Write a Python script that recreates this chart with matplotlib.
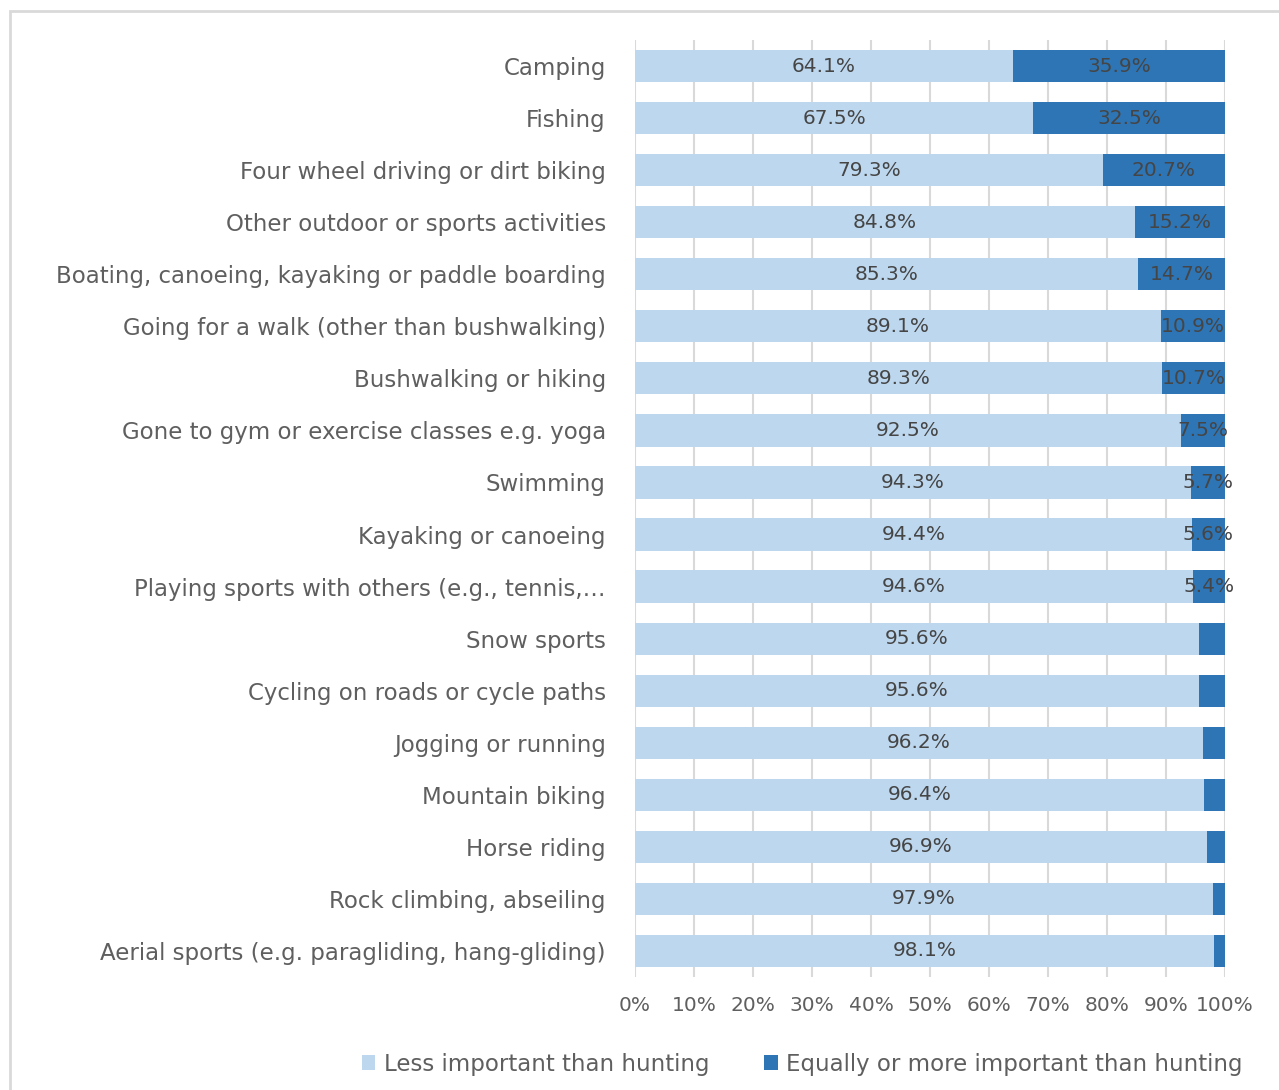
import matplotlib
matplotlib.use("Agg")
from matplotlib import pyplot as plt
from matplotlib.patches import Rectangle
from matplotlib.ticker import MultipleLocator, FuncFormatter

activities = [
    "Camping",
    "Fishing",
    "Four wheel driving or dirt biking",
    "Other outdoor or sports activities",
    "Boating, canoeing, kayaking or paddle boarding",
    "Going for a walk (other than bushwalking)",
    "Bushwalking or hiking",
    "Gone to gym or exercise classes e.g. yoga",
    "Swimming",
    "Kayaking or canoeing",
    "Playing sports with others (e.g., tennis,\u2026",
    "Snow sports",
    "Cycling on roads or cycle paths",
    "Jogging or running",
    "Mountain biking",
    "Horse riding",
    "Rock climbing, abseiling",
    "Aerial sports (e.g. paragliding, hang-gliding)",
]
less_important = [64.1, 67.5, 79.3, 84.8, 85.3, 89.1, 89.3, 92.5, 94.3,
                  94.4, 94.6, 95.6, 95.6, 96.2, 96.4, 96.9, 97.9, 98.1]
more_important = [35.9, 32.5, 20.7, 15.2, 14.7, 10.9, 10.7, 7.5, 5.7,
                  5.6, 5.4, 4.4, 4.4, 3.8, 3.6, 3.1, 2.1, 1.9]

light = "#BDD7EE"
dark = "#2E75B6"
txt = "#5f5f5f"

plt.rcParams["font.family"] = ["DejaVu Sans"]

fig = plt.figure(figsize=(12.79, 10.90), dpi=100)
ax = fig.add_axes([635 / 1279, 1 - 977 / 1090, 590 / 1279, 937 / 1090])

y = list(range(len(activities)))
b1 = ax.barh(y, less_important, height=0.62, color=light, label="Less important than hunting", zorder=2)
b2 = ax.barh(y, more_important, left=less_important, height=0.62, color=dark,
             label="Equally or more important than hunting", zorder=2)

# value labels; the small dark segments (< 5%) stay unlabelled
for i in y:
    ax.text(less_important[i] / 2, i, f"{less_important[i]:.1f}%", ha="center", va="center",
            fontsize=14.5, color="#454545", zorder=3)
    if more_important[i] >= 5:
        ax.text(less_important[i] + more_important[i] / 2, i, f"{more_important[i]:.1f}%",
                ha="center", va="center", fontsize=14.5, color="#454545", zorder=3)

ax.set_xlim(0, 100)
ax.set_ylim(len(activities) - 0.5, -0.5)
ax.set_yticks(y)
ax.set_yticklabels(activities, fontsize=16.5, color=txt)
ax.xaxis.set_major_locator(MultipleLocator(10))
ax.xaxis.set_major_formatter(FuncFormatter(lambda v, p: f"{v:.0f}%"))
ax.tick_params(axis="x", labelsize=14.5, colors=txt, length=0, pad=14)
ax.tick_params(axis="y", length=0, pad=21)
ax.grid(axis="x", color="#D9D9D9", linewidth=1.5, zorder=0)
ax.set_axisbelow(True)
for s in ax.spines.values():
    s.set_visible(False)

fig.legend(handles=[b1, b2], loc="center", bbox_to_anchor=(802 / 1279, 1 - 1064 / 1090),
           ncol=2, frameon=False, fontsize=16.5, labelcolor=txt, handlelength=0.6,
           handleheight=0.6, handletextpad=0.35, columnspacing=2.4)

fig.add_artist(Rectangle((10 / 1279, -0.1), 1.2, 1 - 11 / 1090 + 0.1, transform=fig.transFigure,
                         fill=False, edgecolor="#D9D9D9", linewidth=2))

fig.savefig("out.png", dpi=100)
